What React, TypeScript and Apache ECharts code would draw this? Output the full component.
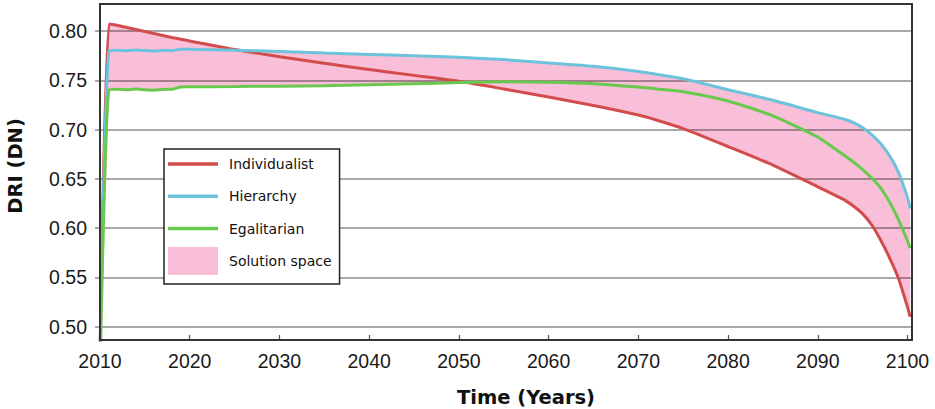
import React, { useEffect, useRef } from 'react';
import * as echarts from 'echarts';

const years = [
  2010, 2011, 2012, 2013, 2014, 2015, 2016, 2017, 2018, 2019, 2020, 2025, 2030, 2035, 2040,
  2045, 2050, 2055, 2060, 2065, 2070, 2072, 2075, 2080, 2085, 2090, 2092, 2093, 2094, 2095, 2096,
  2097, 2098, 2099, 2100, 2100.3,
];

const individualist = [
  0.47, 0.807, 0.8055, 0.8035, 0.8015, 0.7995, 0.7975, 0.7955, 0.7935, 0.7917, 0.7899, 0.7812,
  0.774, 0.7672, 0.761, 0.755, 0.749, 0.7412, 0.733, 0.7245, 0.7148, 0.7098, 0.701, 0.6828, 0.664,
  0.642, 0.633, 0.6285, 0.6222, 0.6145, 0.6035, 0.588, 0.57, 0.549, 0.52, 0.51,
];

const hierarchy = [
  0.47, 0.78, 0.7806, 0.7801, 0.7807, 0.7802, 0.7798, 0.7804, 0.7801, 0.7815, 0.7816, 0.7806,
  0.7791, 0.7776, 0.7763, 0.775, 0.7733, 0.771, 0.7676, 0.7642, 0.759, 0.7562, 0.7515, 0.7405,
  0.7298, 0.7172, 0.7128, 0.7105, 0.707, 0.7018, 0.695, 0.686, 0.6735, 0.6565, 0.631, 0.62,
];

const egalitarian = [
  0.45, 0.7405, 0.741, 0.7404, 0.7411, 0.7404, 0.74, 0.7408, 0.7409, 0.7432, 0.7434, 0.7437,
  0.7441, 0.7446, 0.7454, 0.7465, 0.7477, 0.7485, 0.7481, 0.7466, 0.7432, 0.7413, 0.7385, 0.729,
  0.714, 0.6925, 0.68, 0.6735, 0.667, 0.6595, 0.651, 0.641, 0.6265, 0.6085, 0.587, 0.5796,
];

const yTicks = [0.5, 0.55, 0.6, 0.65, 0.7, 0.75, 0.8];
const xTicks = [2010, 2020, 2030, 2040, 2050, 2060, 2070, 2080, 2090, 2100];
const names = ['Individualist', 'Hierarchy', 'Egalitarian', 'Solution space'];
const colors = ['#d24c4c', '#6dc3dc', '#69c94d', '#f9bfd9'];

export default function App() {
  const ref = useRef<HTMLDivElement>(null);

  useEffect(() => {
    const chart = echarts.init(ref.current!, null, { renderer: 'svg' });
    const lower = years.map((_, i) => Math.min(individualist[i], hierarchy[i], egalitarian[i]));
    const upper = years.map((_, i) => Math.max(individualist[i], hierarchy[i], egalitarian[i]));
    const band = years.map((y, i) => [y, lower[i], upper[i]]);
    const pairs = (vals: number[]) => years.map((y, i) => [y, vals[i]]);
    const labelFont = 'Liberation Sans, Arial, sans-serif';
    const gridColor = 'rgba(0,0,0,0.45)';
    const lineIcon = 'path://M0,0L50,0L50,3.5L0,3.5Z';

    chart.setOption({
      animation: false,
      backgroundColor: '#fff',
      grid: {
        show: true,
        z: 10,
        left: 100,
        top: 4,
        width: 812,
        height: 336,
        borderColor: '#333',
        borderWidth: 2,
        backgroundColor: 'transparent',
      },
      xAxis: {
        type: 'value',
        min: 2010,
        max: 2100.5,
        interval: 10,
        axisLine: { show: false },
        splitLine: { show: false },
        axisTick: {
          show: true,
          inside: true,
          length: 5,
          customValues: xTicks,
          lineStyle: { color: '#555', width: 1.2 },
        },
        axisLabel: {
          customValues: xTicks,
          formatter: (v: number) => (Math.abs(v % 10) < 1e-6 ? String(v) : ''),
          fontFamily: labelFont,
          fontSize: 19.5,
          color: '#1a1a1a',
          margin: 11,
        },
      },
      yAxis: {
        type: 'value',
        min: 0.4866,
        max: 0.8274,
        z: 3,
        axisLine: { show: false },
        axisTick: {
          show: true,
          inside: false,
          length: 5,
          customValues: yTicks,
          lineStyle: { color: gridColor, width: 1.5 },
        },
        splitLine: { show: true, lineStyle: { color: gridColor, width: 1.5 } },
        axisLabel: {
          customValues: yTicks,
          formatter: (v: number) =>
            Math.abs(v * 20 - Math.round(v * 20)) < 1e-6 ? v.toFixed(2) : '',
          fontFamily: labelFont,
          fontSize: 19.5,
          color: '#1a1a1a',
          margin: 13,
        },
      },
      legend: {
        orient: 'vertical',
        left: 164,
        top: 149,
        selectedMode: false,
        backgroundColor: '#fff',
        borderColor: '#222',
        borderWidth: 1.5,
        padding: [1, 8, 9, 4],
        itemWidth: 50,
        itemHeight: 28,
        itemGap: 4.3,
        z: 6,
        textStyle: {
          fontFamily: 'DejaVu Sans, Verdana, sans-serif',
          fontSize: 14,
          color: '#111',
          lineHeight: 28,
          padding: [0, 0, 0, 6],
        },
        data: [
          { name: names[0], icon: lineIcon, itemStyle: { color: colors[0] } },
          { name: names[1], icon: lineIcon, itemStyle: { color: colors[1] } },
          { name: names[2], icon: lineIcon, itemStyle: { color: colors[2] } },
          { name: names[3], icon: 'rect', itemStyle: { color: colors[3] } },
        ],
      },
      series: [
        {
          type: 'custom',
          name: names[3],
          z: 2,
          clip: true,
          itemStyle: { color: colors[3] },
          encode: { x: 0, y: [1, 2] },
          data: band,
          renderItem: (params: any, api: any) => {
            if (params.dataIndex !== 0) return null;
            const top = band.map((d) => api.coord([d[0], d[2]]));
            const bottom = band
              .slice()
              .reverse()
              .map((d) => api.coord([d[0], d[1]]));
            return {
              type: 'polygon',
              shape: { points: top.concat(bottom) },
              style: { fill: colors[3], stroke: 'none' },
            };
          },
        },
        ...[individualist, hierarchy, egalitarian].map((vals, k) => ({
          type: 'line',
          name: names[k],
          z: 5,
          symbol: 'none',
          clip: true,
          smooth: 0.2,
          data: pairs(vals),
          lineStyle: { color: colors[k], width: 3 },
          itemStyle: { color: colors[k] },
        })),
      ],
      graphic: [
        {
          type: 'text',
          x: 526,
          y: 397,
          style: {
            text: 'Time (Years)',
            fontFamily: 'DejaVu Sans, Verdana, sans-serif',
            fontWeight: 'bold',
            fontSize: 19.5,
            fill: '#111',
            textAlign: 'center',
            textVerticalAlign: 'middle',
          },
        },
        {
          type: 'text',
          x: 15,
          y: 166,
          rotation: Math.PI / 2,
          style: {
            text: 'DRI (DN)',
            fontFamily: 'DejaVu Sans, Verdana, sans-serif',
            fontWeight: 'bold',
            fontSize: 19.5,
            fill: '#111',
            textAlign: 'center',
            textVerticalAlign: 'middle',
          },
        },
      ],
    });

    return () => chart.dispose();
  }, []);

  return (
    <div
      ref={ref}
      style={{ position: 'fixed', left: 0, top: 0, width: 935, height: 409, background: '#fff' }}
    />
  );
}
